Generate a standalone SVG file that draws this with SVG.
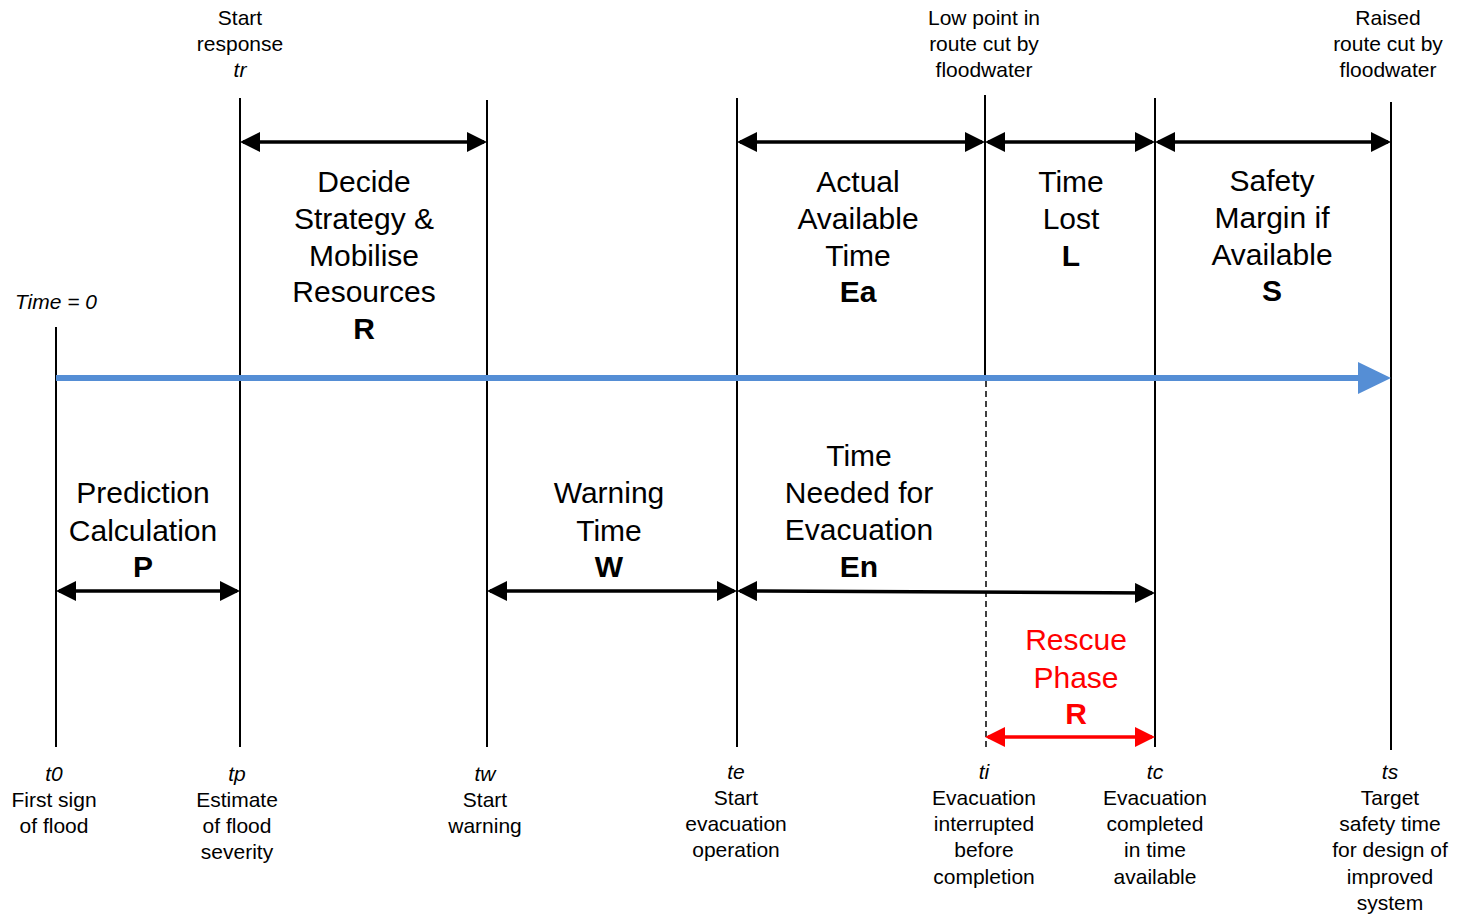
<svg xmlns="http://www.w3.org/2000/svg" width="1457" height="916" viewBox="0 0 1457 916">
<style>
text{font-family:"Liberation Sans",Arial,sans-serif;fill:#000;text-anchor:middle}
.s{font-size:21px}
.b{font-size:30px}
.i{font-style:italic}
.bold{font-weight:bold}
.red{fill:#FF0000}
.vl{stroke:#000;stroke-width:2;fill:none}
.arr{stroke:#000;stroke-width:3.5;fill:none;marker-start:url(#ah);marker-end:url(#ah)}
.rarr{stroke:#FF0000;stroke-width:3.5;fill:none;marker-start:url(#ahr);marker-end:url(#ahr)}
</style>
<defs>
<marker id="ah" viewBox="0 0 20 20" refX="17" refY="10" markerWidth="20" markerHeight="20" orient="auto-start-reverse" markerUnits="userSpaceOnUse"><path d="M0,0 L20,10 L0,20 z" fill="#000"/></marker>
<marker id="ahr" viewBox="0 0 20 20" refX="17" refY="10" markerWidth="20" markerHeight="20" orient="auto-start-reverse" markerUnits="userSpaceOnUse"><path d="M0,0 L20,10 L0,20 z" fill="#FF0000"/></marker>
</defs>
<rect width="1457" height="916" fill="#fff"/>

<g id="t0">
<line class="vl" x1="56" y1="327" x2="56" y2="747"/>
<text class="s i" x="56" y="309">Time = 0</text>
<text class="s i" x="54" y="781">t0</text>
<text class="s" x="54" y="807">First sign</text>
<text class="s" x="54" y="833">of flood</text>
</g>

<g id="tp">
<line class="vl" x1="240" y1="98" x2="240" y2="747"/>
<text class="s" x="240" y="25">Start</text>
<text class="s" x="240" y="51">response</text>
<text class="s i" x="240" y="77">tr</text>
<text class="s i" x="237" y="781">tp</text>
<text class="s" x="237" y="807">Estimate</text>
<text class="s" x="237" y="833">of flood</text>
<text class="s" x="237" y="859">severity</text>
</g>

<g id="tw">
<line class="vl" x1="487" y1="100" x2="487" y2="747"/>
<text class="s i" x="485" y="781">tw</text>
<text class="s" x="485" y="807">Start</text>
<text class="s" x="485" y="833">warning</text>
</g>

<g id="te">
<line class="vl" x1="737" y1="98" x2="737" y2="747"/>
<text class="s i" x="736" y="779">te</text>
<text class="s" x="736" y="805">Start</text>
<text class="s" x="736" y="831">evacuation</text>
<text class="s" x="736" y="857">operation</text>
</g>

<g id="ti">
<line class="vl" x1="985" y1="95" x2="985" y2="381"/>
<line x1="986" y1="381" x2="986" y2="748" stroke="#000" stroke-width="1.5" stroke-dasharray="6,4"/>
<text class="s" x="984" y="25">Low point in</text>
<text class="s" x="984" y="51">route cut by</text>
<text class="s" x="984" y="77">floodwater</text>
<text class="s i" x="984" y="779">ti</text>
<text class="s" x="984" y="805">Evacuation</text>
<text class="s" x="984" y="831">interrupted</text>
<text class="s" x="984" y="857">before</text>
<text class="s" x="984" y="884">completion</text>
</g>

<g id="tc">
<line class="vl" x1="1155" y1="98" x2="1155" y2="747"/>
<text class="s i" x="1155" y="779">tc</text>
<text class="s" x="1155" y="805">Evacuation</text>
<text class="s" x="1155" y="831">completed</text>
<text class="s" x="1155" y="857">in time</text>
<text class="s" x="1155" y="884">available</text>
</g>

<g id="ts">
<line class="vl" x1="1391" y1="102" x2="1391" y2="750"/>
<text class="s" x="1388" y="25">Raised</text>
<text class="s" x="1388" y="51">route cut by</text>
<text class="s" x="1388" y="77">floodwater</text>
<text class="s i" x="1390" y="779">ts</text>
<text class="s" x="1390" y="805">Target</text>
<text class="s" x="1390" y="831">safety time</text>
<text class="s" x="1390" y="857">for design of</text>
<text class="s" x="1390" y="884">improved</text>
<text class="s" x="1390" y="910">system</text>
</g>

<g id="timeline">
<line x1="56" y1="378" x2="1362" y2="378" stroke="#558ED5" stroke-width="6"/>
<polygon points="1358,362 1391,378 1358,394" fill="#558ED5"/>
</g>

<g id="connectors">
<line class="arr" x1="243" y1="142" x2="484" y2="142"/>
<line class="arr" x1="740" y1="142" x2="982" y2="142"/>
<line class="arr" x1="988" y1="142" x2="1152" y2="142"/>
<line class="arr" x1="1158" y1="142" x2="1388" y2="142"/>
<line class="arr" x1="59" y1="591" x2="237" y2="591"/>
<line class="arr" x1="490" y1="591" x2="734" y2="591"/>
<line class="arr" x1="740" y1="591" x2="1152" y2="593"/>
<line class="rarr" x1="988" y1="737" x2="1152" y2="737"/>
</g>

<g id="label-R">
<text class="b" x="364" y="192">Decide</text>
<text class="b" x="364" y="229">Strategy &amp;</text>
<text class="b" x="364" y="266">Mobilise</text>
<text class="b" x="364" y="302">Resources</text>
<text class="b bold" x="364" y="339">R</text>
</g>

<g id="label-Ea">
<text class="b" x="858" y="192">Actual</text>
<text class="b" x="858" y="229">Available</text>
<text class="b" x="858" y="266">Time</text>
<text class="b bold" x="858" y="302">Ea</text>
</g>

<g id="label-L">
<text class="b" x="1071" y="192">Time</text>
<text class="b" x="1071" y="229">Lost</text>
<text class="b bold" x="1071" y="266">L</text>
</g>

<g id="label-S">
<text class="b" x="1272" y="191">Safety</text>
<text class="b" x="1272" y="228">Margin if</text>
<text class="b" x="1272" y="265">Available</text>
<text class="b bold" x="1272" y="301">S</text>
</g>

<g id="label-P">
<text class="b" x="143" y="503">Prediction</text>
<text class="b" x="143" y="541">Calculation</text>
<text class="b bold" x="143" y="577">P</text>
</g>

<g id="label-W">
<text class="b" x="609" y="503">Warning</text>
<text class="b" x="609" y="541">Time</text>
<text class="b bold" x="609" y="577">W</text>
</g>

<g id="label-En">
<text class="b" x="859" y="466">Time</text>
<text class="b" x="859" y="503">Needed for</text>
<text class="b" x="859" y="540">Evacuation</text>
<text class="b bold" x="859" y="577">En</text>
</g>

<g id="label-Rescue">
<text class="b red" x="1076" y="650">Rescue</text>
<text class="b red" x="1076" y="688">Phase</text>
<text class="b bold red" x="1076" y="724">R</text>
</g>
</svg>
